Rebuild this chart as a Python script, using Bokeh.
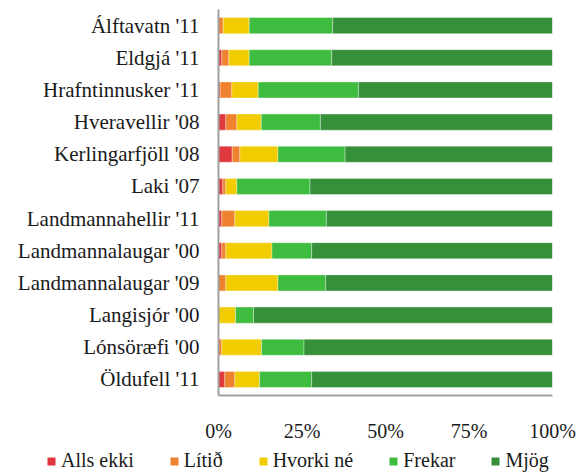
from bokeh.plotting import figure
from bokeh.layouts import column
from bokeh.models import ColumnDataSource, FactorRange, FixedTicker, PrintfTickFormatter, Legend, LegendItem
from bokeh.embed import file_html
from bokeh.resources import INLINE

categories = ["Álftavatn '11", "Eldgjá '11", "Hrafntinnusker '11", "Hveravellir '08",
              "Kerlingarfjöll '08", "Laki '07", "Landmannahellir '11", "Landmannalaugar '00",
              "Landmannalaugar '09", "Langisjór '00", "Lónsöræfi '00", "Öldufell '11"]
alls_ekki = [0.0, 1.0, 0.5, 2.2, 4.1, 1.3, 1.0, 1.0, 0.0, 0.0, 0.0, 1.9]
litid     = [1.4, 2.1, 3.5, 3.3, 2.3, 0.9, 3.9, 1.2, 2.2, 0.0, 1.0, 3.0]
hvorki_ne = [7.8, 6.1, 7.9, 7.3, 11.4, 3.3, 10.2, 13.8, 15.6, 5.1, 11.9, 7.4]
frekar    = [25.0, 24.7, 30.0, 17.7, 20.1, 21.9, 17.2, 11.9, 14.3, 5.4, 12.7, 15.6]
mjog      = [65.8, 66.1, 58.1, 69.5, 62.1, 72.6, 67.7, 72.1, 67.9, 89.5, 74.4, 72.1]
series_names = ["Alls ekki", "Lítið", "Hvorki né", "Frekar", "Mjög"]
x_ticks = [0, 25, 50, 75, 100]

colors = ["#E0393D", "#EE822E", "#F0CC00", "#3EBC3F", "#368F39"]
FONT = "'Liberation Serif', serif"
TEXT_COLOR = "#1a1a1a"

keys = ["s0", "s1", "s2", "s3", "s4"]
source = ColumnDataSource(dict(cat=categories, s0=alls_ekki, s1=litid, s2=hvorki_ne, s3=frekar, s4=mjog))

p = figure(width=585, height=447, y_range=FactorRange(*list(reversed(categories))),
           x_range=(0, 100), output_backend="svg", toolbar_location=None,
           min_border_left=218, min_border_right=33, min_border_top=9, min_border_bottom=52)

renderers = p.hbar_stack(keys, y="cat", height=0.5, color=colors, source=source,
                         line_color="white", line_alpha=0.35, line_width=1)

p.xgrid.visible = False
p.ygrid.visible = False
p.outline_line_color = None

p.xaxis.ticker = FixedTicker(ticks=x_ticks)
p.xaxis.formatter = PrintfTickFormatter(format="%d%%")
for ax in (p.xaxis[0], p.yaxis[0]):
    ax.axis_line_color = "#A0A0A0"
    ax.axis_line_width = 2
    ax.major_tick_line_color = None
    ax.minor_tick_line_color = None
    ax.major_tick_out = 0
    ax.major_tick_in = 0
    ax.major_label_text_font = FONT
    ax.major_label_text_font_size = "20px"
    ax.major_label_text_color = TEXT_COLOR
p.yaxis.major_label_text_font_size = "21px"
p.xaxis.major_label_standoff = 24
p.yaxis.major_label_standoff = 19

# legend strip below the chart (its own full-width frame)
pl = figure(width=585, height=25, x_range=(0, 1), y_range=(0, 1), output_backend="svg",
            toolbar_location=None, min_border=0)
pl.axis.visible = False
pl.xgrid.visible = False
pl.ygrid.visible = False
pl.outline_line_color = None
for fig in (p, pl):
    try:
        fig.frame_align = False
    except Exception:
        pass
legend_src = ColumnDataSource(dict(y=[0], right=[0]))
legend_renderers = [pl.hbar(y="y", right="right", height=0.5, fill_color=c, line_color=None,
                            source=legend_src) for c in colors]
legend = Legend(items=[LegendItem(label=n, renderers=[r]) for n, r in zip(series_names, legend_renderers)],
                orientation="horizontal", location=(46, 0),
                label_text_font=FONT, label_text_font_size="20px", label_text_color=TEXT_COLOR,
                glyph_width=10, glyph_height=10, label_standoff=5, spacing=35,
                padding=2, margin=0, border_line_color=None, background_fill_alpha=0,
                label_height=20)
pl.add_layout(legend, "center")

layout = column(p, pl, spacing=0)
open("out.html", "w").write(file_html(layout, INLINE))
